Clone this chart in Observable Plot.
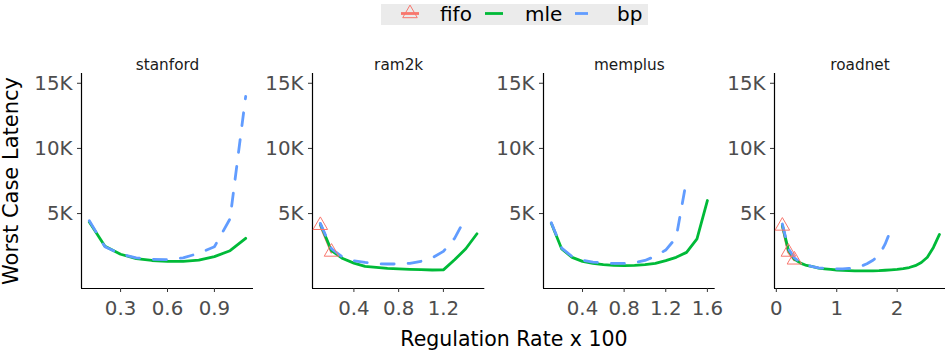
<!DOCTYPE html>
<html><head><meta charset="utf-8">
<script src="https://cdn.jsdelivr.net/npm/d3@7"></script>
<script src="https://cdn.jsdelivr.net/npm/@observablehq/plot@0.6"></script>
<style>
html,body{margin:0;padding:0;background:#fff;}
#root{position:relative;width:945px;height:360px;overflow:hidden;font-family:"DejaVu Sans",sans-serif;}
#root svg{position:absolute;top:0;overflow:visible;}
</style></head><body><div id="root"></div>
<script>
// ---- data ----
const panelNames = ["stanford", "ram2k", "memplus", "roadnet"];
const seriesNames = ["fifo", "mle", "bp"];
const seriesColors = ["#F8766D", "#00BA38", "#619CFF"];
const yTicks = [5000, 10000, 15000];
const yDomain = [-750, 15750];

const stanfordX = [0.1,0.2,0.3,0.4,0.5,0.6,0.7,0.8,0.9,1.0,1.1];
const stanfordMle = [4350,2500,1880,1550,1400,1330,1330,1420,1700,2150,3100];
const stanfordBp = [4450,2450,1900,1600,1480,1460,1600,1950,2450,4600,14000];
const stanfordFifoX = [];
const stanfordFifo = [];
const stanfordTicks = [0.3,0.6,0.9];

const ram2kX = [0.1,0.2,0.3,0.4,0.5,0.6,0.7,0.8,0.9,1.0,1.1,1.2,1.3,1.4,1.5];
const ram2kMle = [4200,2150,1550,1200,950,870,800,760,720,690,670,680,1450,2300,3450];
const ram2kBpX = [0.1,0.2,0.3,0.4,0.5,0.6,0.7,0.8,0.9,1.0,1.1,1.2,1.3,1.4];
const ram2kBp = [4250,2300,1650,1380,1250,1150,1130,1130,1180,1340,1600,2100,3100,4700];
const ram2kFifoX = [0.1,0.2];
const ram2kFifo = [4100,2050];
const ram2kTicks = [0.4,0.8,1.2];

const memplusX = [0.1,0.2,0.3,0.4,0.5,0.6,0.7,0.8,0.9,1.0,1.1,1.2,1.3,1.4,1.5,1.6];
const memplusMle = [4250,2280,1640,1330,1180,1080,1030,1000,1030,1080,1180,1385,1640,2020,3050,6000];
const memplusBpX = [0.1,0.2,0.3,0.4,0.5,0.6,0.7,0.8,0.9,1.0,1.1,1.2,1.3,1.4];
const memplusBp = [4300,2350,1700,1420,1280,1200,1170,1170,1230,1400,1730,2200,3150,7600];
const memplusFifoX = [];
const memplusFifo = [];
const memplusTicks = [0.4,0.8,1.2,1.6];

const roadnetX = [0.1,0.2,0.3,0.4,0.5,0.6,0.7,0.8,0.9,1.0,1.1,1.2,1.3,1.4,1.5,1.6,1.7,1.8,1.9,2.0,2.1,2.2,2.3,2.4,2.5,2.6,2.7];
const roadnetMle = [4100,2200,1500,1200,1020,920,820,760,710,670,640,620,610,605,605,610,620,650,680,720,780,860,1000,1250,1650,2400,3400];
const roadnetBpX = [0.1,0.2,0.3,0.4,0.5,0.6,0.7,0.8,0.9,1.0,1.1,1.2,1.3,1.4,1.5,1.6,1.7,1.8,1.9];
const roadnetBp = [4200,2300,1600,1250,1050,920,840,790,760,750,760,790,830,950,1150,1420,1800,2650,3800];
const roadnetFifoX = [0.1,0.2,0.3];
const roadnetFifo = [4050,2050,1450];
const roadnetTicks = [0,1,2];

// ---- layout (not data) ----
const layout = [
  {left: 81,    right: 253, xDomain: [0.05, 1.15]},
  {left: 311.7, right: 484, xDomain: [0.03, 1.57]},
  {left: 543.3, right: 715, xDomain: [0.025, 1.675]},
  {left: 774,   right: 945, xDomain: [-0.03, 2.8]}
];
const FONT = "DejaVu Sans, sans-serif";
const LW = 2.8, DASH = "13,14", TRI_R = 5.4;

const rows = (xs, ys) => xs.map((x, i) => ({x, y: ys[i]}));
const panelData = [
  {fifo: rows(stanfordFifoX, stanfordFifo), mle: rows(stanfordX, stanfordMle), bp: rows(stanfordX, stanfordBp), ticks: stanfordTicks},
  {fifo: rows(ram2kFifoX, ram2kFifo), mle: rows(ram2kX, ram2kMle), bp: rows(ram2kBpX, ram2kBp), ticks: ram2kTicks},
  {fifo: rows(memplusFifoX, memplusFifo), mle: rows(memplusX, memplusMle), bp: rows(memplusBpX, memplusBp), ticks: memplusTicks},
  {fifo: rows(roadnetFifoX, roadnetFifo), mle: rows(roadnetX, roadnetMle), bp: rows(roadnetBpX, roadnetBp), ticks: roadnetTicks}
];

const root = document.getElementById("root");
const ML = 70;
panelNames.forEach((name, i) => {
  const L = layout[i], D = panelData[i];
  const svg = Plot.plot({
    width: ML + (L.right - L.left),
    height: 360,
    marginLeft: ML, marginRight: 0, marginTop: 73, marginBottom: 72,
    x: {domain: L.xDomain},
    y: {domain: yDomain},
    style: {background: "transparent", overflow: "visible", fontFamily: FONT},
    marks: [
      Plot.ruleY([yDomain[0]], {stroke: "#000", strokeWidth: 1.2}),
      Plot.ruleX([L.xDomain[0]], {stroke: "#000", strokeWidth: 1.2}),
      Plot.axisX({ticks: D.ticks, tickSize: 4, tickPadding: 8, stroke: "#333", fill: "#4D4D4D", fontSize: 19.8, tickFormat: d => String(d), label: null}),
      Plot.axisY({ticks: yTicks, tickSize: 4, tickPadding: 5, stroke: "#333", fill: "#4D4D4D", fontSize: 19.8, tickFormat: d => (d / 1000) + "K", label: null}),
      Plot.line(D.fifo, {x: "x", y: "y", stroke: seriesColors[0], strokeWidth: LW}),
      Plot.line(D.mle, {x: "x", y: "y", stroke: seriesColors[1], strokeWidth: LW}),
      Plot.line(D.bp, {x: "x", y: "y", stroke: seriesColors[2], strokeWidth: LW, strokeDasharray: DASH}),
      Plot.dot(D.fifo, {x: "x", y: "y", symbol: "triangle", r: TRI_R, stroke: seriesColors[0], fill: "none", strokeWidth: 1}),
      Plot.text([name], {text: d => d, frameAnchor: "top", dy: -14, fontSize: 15.3, fill: "#1A1A1A"})
    ]
  });
  svg.style.left = (L.left - ML) + "px";
  root.appendChild(svg);
});

// ---- legend and axis titles ----
const ns = "http://www.w3.org/2000/svg";
const ov = d3.create("svg").attr("width", 945).attr("height", 360).style("left", "0px").style("pointer-events", "none").style("font-family", FONT);
ov.append("rect").attr("x", 381).attr("y", 4).attr("width", 267).attr("height", 21).attr("fill", "#EBEBEB");
const keyX = [410, 494, 584];
const textX = [440, 525, 617];
const ky = 13.5;
seriesNames.forEach((s, i) => {
  const ln = ov.append("line").attr("x1", keyX[i] - 9).attr("x2", keyX[i] + 9).attr("y1", ky).attr("y2", ky)
    .attr("stroke", seriesColors[i]).attr("stroke-width", LW);
  if (s === "bp") ln.attr("stroke-dasharray", DASH);
  if (s === "fifo") {
    ov.append("path").attr("d", d3.symbol(d3.symbolTriangle, Math.PI * TRI_R * TRI_R)())
      .attr("transform", `translate(${keyX[i]},${ky})`).attr("fill", "none").attr("stroke", seriesColors[i]).attr("stroke-width", 1);
  }
  ov.append("text").attr("x", textX[i]).attr("y", 20.5).attr("font-size", 20).attr("fill", "#000").text(s);
});
ov.append("text").attr("transform", "translate(18,181) rotate(-90)").attr("text-anchor", "middle").attr("font-size", 21).attr("fill", "#000").text("Worst Case Latency");
ov.append("text").attr("x", 514).attr("y", 345.5).attr("text-anchor", "middle").attr("font-size", 20.5).attr("fill", "#000").text("Regulation Rate x 100");
root.appendChild(ov.node());
</script></body></html>
